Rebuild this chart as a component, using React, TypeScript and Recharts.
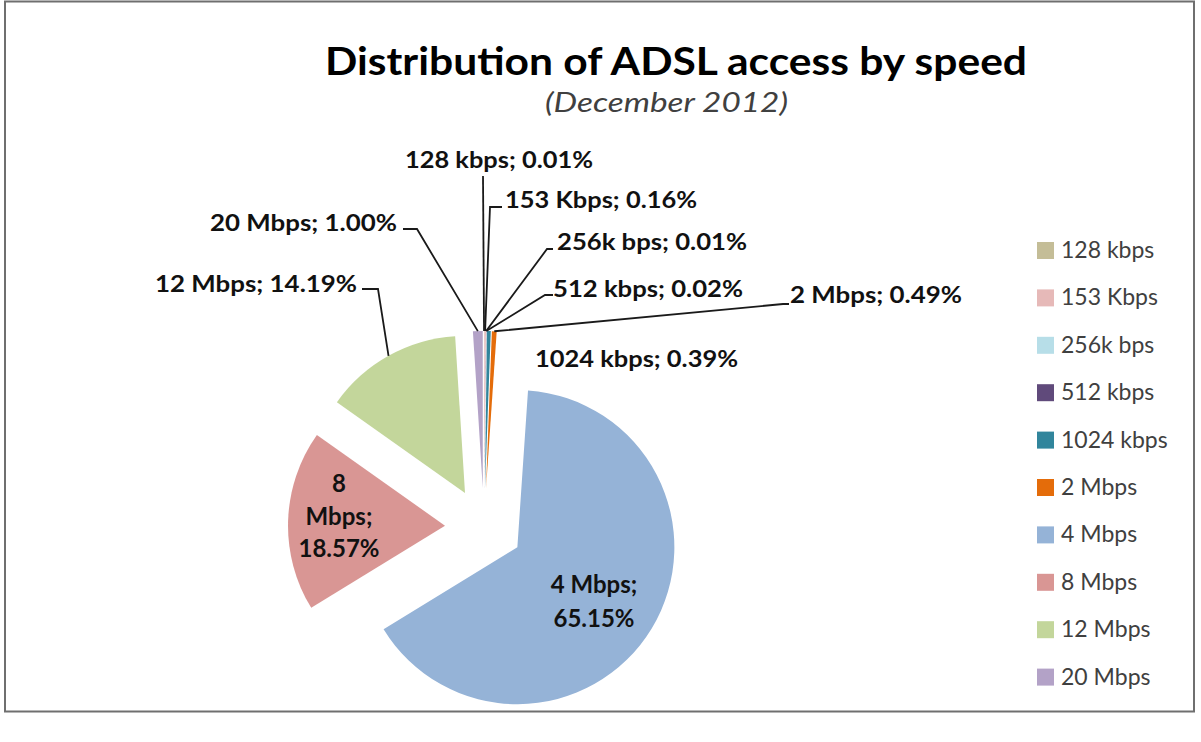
import React from 'react';
import { PieChart, Pie, Cell, Legend, Sector } from 'recharts';

// ---------- data ----------
const categories = ['128 kbps', '153 Kbps', '256k bps', '512 kbps', '1024 kbps', '2 Mbps', '4 Mbps', '8 Mbps', '12 Mbps', '20 Mbps'];
const shares = [0.01, 0.16, 0.01, 0.02, 0.39, 0.49, 65.15, 18.57, 14.19, 1.0];
const sliceColors = ['#C4BD97', '#E6B9B8', '#B7DEE8', '#604A7B', '#31859C', '#E46C0A', '#95B3D7', '#D99694', '#C3D69B', '#B3A2C7'];
const chartTitle = 'Distribution of ADSL access by speed';
const chartSubtitle = '(December 2012)';

const data = categories.map((name, i) => ({ name, value: shares[i] }));

// ---------- layout ----------
const W = 1201;
const H = 742;
const CX = 484;
const CY = 527;
const RADIUS = 157;
const EXPLODE = 39;
const RAD = Math.PI / 180;
const FONT = "Lato, 'Open Sans', 'DejaVu Sans', sans-serif";

type LabelLayout = {
  x: number;
  y: number;
  anchor: 'start' | 'middle' | 'end';
  width?: number;
  wrap?: number;
  gap?: number;
  size?: number;
  path?: [number, number][];
};

const labelLayout: LabelLayout[] = [
  { x: 405, y: 168, anchor: 'start', width: 188, path: [[483, 176]] },
  { x: 505, y: 208, anchor: 'start', width: 192, path: [[502, 207], [490, 207]] },
  { x: 557, y: 250, anchor: 'start', width: 190, path: [[553, 249], [547, 249]] },
  { x: 553, y: 297, anchor: 'start', width: 190, path: [[553, 295], [545, 295]] },
  { x: 535, y: 367, anchor: 'start', width: 203 },
  { x: 790, y: 303, anchor: 'start', width: 172, path: [[789, 304], [783, 304]] },
  { x: 594, y: 593, anchor: 'middle', wrap: 2, gap: 34, size: 24 },
  { x: 339, y: 492, anchor: 'middle', wrap: 3, gap: 32.5, size: 24 },
  { x: 357, y: 292, anchor: 'end', width: 202, path: [[362, 289], [378, 289]] },
  { x: 397, y: 231, anchor: 'end', width: 187, path: [[403, 229], [417, 229]] },
];

const pctText = (v: number) => `${v.toFixed(2)}%`;

const ExplodedSlice = (props: any) => {
  const { cx, cy, midAngle } = props;
  const a = -midAngle * RAD;
  return <Sector {...props} cx={cx + EXPLODE * Math.cos(a)} cy={cy + EXPLODE * Math.sin(a)} />;
};

const renderLabel = (props: any) => {
  const { cx, cy, midAngle, outerRadius, index } = props;
  const L = labelLayout[index];
  if (!L) return null;
  const a = -midAngle * RAD;
  const tipX = cx + (EXPLODE + outerRadius) * Math.cos(a);
  const tipY = cy + (EXPLODE + outerRadius) * Math.sin(a);
  const name = categories[index];
  const pct = pctText(shares[index]);
  let lines: string[];
  if (L.wrap === 2) lines = [`${name};`, pct];
  else if (L.wrap === 3) {
    const parts = name.split(' ');
    lines = [parts[0], `${parts.slice(1).join(' ')};`, pct];
  } else lines = [`${name}; ${pct}`];
  const pts = L.path ? [...L.path, [tipX, tipY]] : null;
  return (
    <g key={`lbl-${index}`}>
      {pts && (
        <polyline
          points={pts.map((p) => `${p[0]},${p[1]}`).join(' ')}
          fill="none"
          stroke="#1a1a1a"
          strokeWidth={1.8}
        />
      )}
      {lines.map((t, k) => (
        <text
          key={k}
          x={L.x}
          y={L.y + k * (L.gap || 0)}
          textAnchor={L.anchor}
          fontFamily={FONT}
          fontWeight={700}
          fontSize={L.size || 22}
          fill="#111"
          {...(L.width ? { textLength: L.width, lengthAdjust: 'spacingAndGlyphs' } : {})}
        >
          {t}
        </text>
      ))}
    </g>
  );
};

const LEGEND_TOP = 226;
const LEGEND_STEP = 47.4;

const renderLegend = (props: any) => {
  const payload = [...((props && props.payload) || [])].sort(
    (p: any, q: any) => categories.indexOf(p.value) - categories.indexOf(q.value)
  );
  return (
    <svg width={170} height={480} style={{ overflow: 'visible', display: 'block' }}>
      {payload.map((p: any, i: number) => {
        const cy = 24 + i * LEGEND_STEP;
        return (
          <g key={i}>
            <rect x={0} y={cy - 8} width={17} height={17} fill={p.color} />
            <text x={24} y={cy + 8} fontFamily={FONT} fontSize={23} fill="#404040">
              {p.value}
            </text>
          </g>
        );
      })}
    </svg>
  );
};

export default function App() {
  return (
    <div style={{ position: 'absolute', left: 0, top: 0, width: W, height: H, background: '#fff' }}>
      <PieChart width={W} height={H} margin={{ top: 0, right: 0, bottom: 0, left: 0 }}>
        <Pie
          data={data}
          dataKey="value"
          nameKey="name"
          cx={CX}
          cy={CY}
          outerRadius={RADIUS}
          startAngle={90}
          endAngle={-270}
          stroke="none"
          shape={ExplodedSlice}
          activeShape={ExplodedSlice}
          inactiveShape={ExplodedSlice}
          label={renderLabel}
          labelLine={false}
          isAnimationActive={false}
        >
          {data.map((d, i) => (
            <Cell key={d.name} fill={sliceColors[i]} stroke="none" />
          ))}
        </Pie>
        <Legend
          layout="vertical"
          align="center"
          verticalAlign="middle"
          itemSorter={null as any}
          content={renderLegend}
          wrapperStyle={{ left: 1037, top: LEGEND_TOP, width: 170, height: 480 }}
        />
      </PieChart>
      <svg width={W} height={H} style={{ position: 'absolute', left: 0, top: 0, pointerEvents: 'none' }}>
        <rect x={5} y={1.5} width={1189} height={710} fill="none" stroke="#6f6f6f" strokeWidth={2} />
        <text x={325} y={75} fontFamily={FONT} fontWeight={700} fontSize={39} fill="#000" textLength={702} lengthAdjust="spacingAndGlyphs">
          {chartTitle}
        </text>
        <text x={545} y={112} fontFamily={FONT} fontStyle="italic" fontSize={27} fill="#404040" textLength={243} lengthAdjust="spacingAndGlyphs">
          {chartSubtitle}
        </text>
      </svg>
    </div>
  );
}
